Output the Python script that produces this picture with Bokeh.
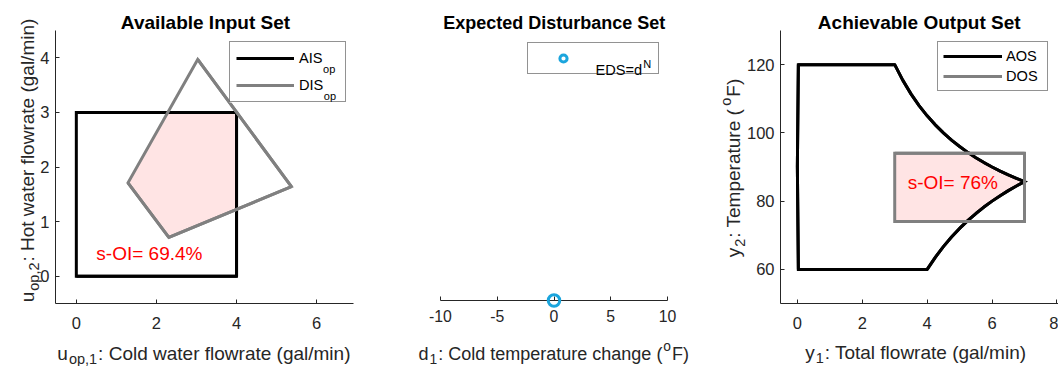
import math
from bokeh.plotting import figure
from bokeh.layouts import row, column
from bokeh.models import Range1d, FixedTicker, Legend, LegendItem
from bokeh.core.properties import value
from bokeh.embed import file_html
from bokeh.resources import INLINE

FONT = "Liberation Sans"
INK = "#262626"
GRAY = "#808080"
PINK = "#FFE4E4"
RED = "#FF0000"
CYAN = "#1BA5DD"

# ---------------- data ----------------
# Available input set (cold / hot water flow, gal/min)
ais_u1 = [0.0, 4.0, 4.0, 0.0]
ais_u2 = [0.0, 0.0, 3.0, 3.0]
# Desired input set
dis_u1 = [3.03, 5.37, 2.31, 1.29]
dis_u2 = [3.97, 1.64, 0.71, 1.71]
ais_soi_text = "s-OI= 69.4%"
ais_soi_x, ais_soi_y = 0.5, 0.42

# Expected disturbance set: nominal point only
eds_d1 = [0.0]
eds_level = [0.0]

# Achievable output set boundary (y1 total flow, y2 temperature)
aos_left_y1 = [0.03, 0.0, 0.03]
aos_left_y2 = [60.0, 90.0, 120.0]
aos_upper_y1 = [3.00, 3.25, 3.50, 3.75, 4.00, 4.25, 4.50, 4.75, 5.00,
                5.25, 5.50, 5.75, 6.00, 6.25, 6.50, 6.75, 7.00]
aos_upper_y2 = [120.00, 115.38, 111.43, 108.00, 105.00, 102.35, 100.00, 97.89, 96.00,
                94.29, 92.73, 91.30, 90.00, 88.80, 87.69, 86.67, 85.71]
aos_lower_y1 = [6.75, 6.50, 6.25, 6.00, 5.75, 5.50, 5.25, 5.00, 4.75, 4.50, 4.25, 4.00]
aos_lower_y2 = [84.44, 83.08, 81.60, 80.00, 78.26, 76.36, 74.29, 72.00, 69.47, 66.67, 63.53, 60.00]
# Desired output set
dos_y1 = [3.0, 7.0, 7.0, 3.0]
dos_y2 = [74.0, 74.0, 94.0, 94.0]
aos_soi_text = "s-OI= 76%"
aos_soi_x, aos_soi_y = 3.4, 85.5

# tick positions
ais_xticks = [0, 2, 4, 6]
ais_yticks = [0, 1, 2, 3, 4]
eds_xticks = [-10, -5, 0, 5, 10]
aos_xticks = [0, 2, 4, 6, 8]
aos_yticks = [60, 80, 100, 120]


# ---------------- helpers ----------------
def clip_to_box(xs, ys, xmin, xmax, ymin, ymax):
    """Sutherland-Hodgman clipping of a polygon against an axis-aligned box."""
    pts = list(zip(xs, ys))

    def clip(pts, inside, cross):
        out = []
        for i in range(len(pts)):
            cur, prev = pts[i], pts[i - 1]
            if inside(cur):
                if not inside(prev):
                    out.append(cross(prev, cur))
                out.append(cur)
            elif inside(prev):
                out.append(cross(prev, cur))
        return out

    def at_x(a, b, x):
        t = (x - a[0]) / (b[0] - a[0])
        return (x, a[1] + t * (b[1] - a[1]))

    def at_y(a, b, y):
        t = (y - a[1]) / (b[1] - a[1])
        return (a[0] + t * (b[0] - a[0]), y)

    pts = clip(pts, lambda p: p[0] >= xmin, lambda a, b: at_x(a, b, xmin))
    pts = clip(pts, lambda p: p[0] <= xmax, lambda a, b: at_x(a, b, xmax))
    pts = clip(pts, lambda p: p[1] >= ymin, lambda a, b: at_y(a, b, ymin))
    pts = clip(pts, lambda p: p[1] <= ymax, lambda a, b: at_y(a, b, ymax))
    return [p[0] for p in pts], [p[1] for p in pts]


# Arial / Liberation Sans advance widths (per 1000 em)
ADV = {" ": 278, "(": 333, ")": 333, ",": 278, "-": 333, ".": 278, "/": 278, ":": 278,
       "=": 584, "%": 889, "A": 667, "C": 722, "D": 722, "E": 667, "F": 611, "H": 722,
       "I": 278, "N": 722, "O": 778, "S": 667, "T": 611, "a": 556, "c": 500, "d": 556,
       "e": 556, "f": 278, "g": 556, "h": 556, "i": 222, "l": 222, "m": 833, "n": 556,
       "o": 556, "p": 556, "r": 333, "s": 500, "t": 278, "u": 556, "w": 722, "y": 500}


def text_width(s, size):
    return sum(ADV.get(c, 556) for c in s) * size / 1000.0


class Panel:
    """Page geometry of one axes box and its data ranges."""
    def __init__(self, page_left, fl, fr, ft, fb, xr, yr):
        self.page_left, self.fl, self.fr, self.ft, self.fb = page_left, fl, fr, ft, fb
        self.xr, self.yr = xr, yr

    def to_data(self, X, Y):
        x = self.xr[0] + (X - self.fl) / (self.fr - self.fl) * (self.xr[1] - self.xr[0])
        y = self.yr[0] + (self.fb - Y) / (self.fb - self.ft) * (self.yr[1] - self.yr[0])
        return x, y


def make_fig(g, width, y_axis=True):
    p = figure(width=width, height=366,
               x_range=Range1d(*g.xr), y_range=Range1d(*g.yr),
               min_border_left=g.fl - g.page_left,
               min_border_right=g.page_left + width - g.fr,
               min_border_top=g.ft, min_border_bottom=366 - g.fb,
               output_backend="svg", toolbar_location=None,
               y_axis_location="left" if y_axis else None,
               outline_line_color=None, background_fill_color="white",
               border_fill_color="white")
    p.grid.visible = False
    return p


def style_axis(ax, size, standoff):
    ax.axis_line_color = INK
    ax.axis_line_width = 1
    ax.major_tick_line_color = INK
    ax.major_tick_in = 4
    ax.major_tick_out = 0
    ax.minor_tick_line_color = None
    ax.major_label_text_font = FONT
    ax.major_label_text_font_size = f"{size}px"
    ax.major_label_text_color = INK
    ax.major_label_standoff = standoff


def put(p, g, X, Y, text, size, color=INK, angle=0.0, align="left",
        baseline="alphabetic", bold=False):
    """Text placed at a page position, drawn unclipped above the frame."""
    x, y = g.to_data(X, Y)
    p.text(x=[x], y=[y], text=[text], angle=angle, text_align=align,
           text_baseline=baseline, text_font=value(FONT),
           text_font_size=value(f"{size}px"), text_color=color,
           text_font_style="bold" if bold else "normal", level="overlay")


def rich(p, g, segs, X, Y, angle=0.0, gap=1.0):
    """Centered label made of pieces (text, size, baseline shift in px)."""
    widths = [text_width(t, s) for t, s, _ in segs]
    total = sum(widths) + gap * (len(segs) - 1)
    off = -total / 2.0
    for (t, s, sh), w in zip(segs, widths):
        if angle == 0.0:
            put(p, g, X + off, Y + sh, t, s)
        else:
            put(p, g, X + sh, Y - off, t, s, angle=angle)
        off += w + gap


def legend(p, g, items, box, pad, spacing, gw, gh, standoff):
    """Legend box given as page (left, right, top, bottom); white backing drawn first."""
    left, right, top, bottom = box
    x0, y0 = g.to_data(left, bottom)
    x1, y1 = g.to_data(right, top)
    p.quad(left=[x0], right=[x1], bottom=[y0], top=[y1], fill_color="white",
           line_color=None, level="overlay")
    lw = (right - left) - 2 * pad - gw - standoff
    lg = Legend(items=items, location=(left - g.fl, g.fb - bottom), orientation="vertical",
                padding=pad, spacing=spacing, margin=0,
                glyph_width=gw, glyph_height=gh, label_standoff=standoff,
                label_width=lw, label_height=gh,
                label_text_font=FONT, label_text_font_size="14.6px",
                label_text_color="black",
                border_line_color=INK, border_line_width=1,
                background_fill_alpha=0.0)
    p.add_layout(lg)


# ---------------- panel 1: available input set ----------------
g1 = Panel(0, 55, 353, 30, 303, (-0.52, 6.92), (-0.5, 4.5))
p1 = make_fig(g1, 360)
style_axis(p1.xaxis[0], 16.5, 13)
style_axis(p1.yaxis[0], 16.5, 6)
p1.xaxis.ticker = FixedTicker(ticks=ais_xticks)
p1.yaxis.ticker = FixedTicker(ticks=ais_yticks)

ov_x, ov_y = clip_to_box(dis_u1, dis_u2, min(ais_u1), max(ais_u1), min(ais_u2), max(ais_u2))
p1.patch(ov_x, ov_y, fill_color=PINK, line_color=None)
k_ais = p1.line(ais_u1, ais_u2, line_color="black", line_width=3)
p1.patch(ais_u1, ais_u2, fill_color=None, line_color="black", line_width=3, line_join="miter")
k_dis = p1.line(dis_u1, dis_u2, line_color=GRAY, line_width=3)
p1.patch(dis_u1, dis_u2, fill_color=None, line_color=GRAY, line_width=3, line_join="miter")
legend(p1, g1, [LegendItem(label="AIS", renderers=[k_ais]),
                LegendItem(label="DIS", renderers=[k_dis])],
       (229, 344, 43, 102), 6, 7, 58, 20, 5)
put(p1, g1, 298 + text_width("AIS", 14.6) + 1, 68.5, "op", 11, color="black")
put(p1, g1, 298 + text_width("DIS", 14.6) + 1, 95.5, "op", 11, color="black")

p1.text(x=[ais_soi_x], y=[ais_soi_y], text=[ais_soi_text], text_align="left",
        text_baseline="middle", text_font=value(FONT), text_font_size=value("19px"),
        text_color=RED)
put(p1, g1, 205, 21.7, "Available Input Set", 19, color="black", align="center", bold=True)
rich(p1, g1, [("u", 19, 0), ("op,1", 14.5, 5.5), (": Cold water flowrate (gal/min)", 19, 0)],
     203.4, 352.5)
rich(p1, g1, [("u", 19, 0), ("op,2", 14.5, 6), (": Hot water flowrate (gal/min)", 19, 0)],
     27, 160, angle=math.pi / 2)

# ---------------- panel 2: expected disturbance set ----------------
g2 = Panel(360, 440, 667, 30, 300, (-10, 10), (0.0, 1.0))
p2 = make_fig(g2, 340, y_axis=False)
style_axis(p2.xaxis[0], 15.8, 9)
p2.xaxis.ticker = FixedTicker(ticks=eds_xticks)
p2.xaxis.major_label_overrides = {-10: "-10", -5: "-5"}
r_eds = p2.scatter(eds_d1, eds_level, marker="circle", size=11.5, fill_color=None,
                   line_color=CYAN, line_width=3, level="overlay")
legend(p2, g2, [LegendItem(label=" ", renderers=[r_eds])],
       (527, 657, 44, 74), 6, 0, 58, 18, 4)
put(p2, g2, 595, 69.8, "EDS=d", 14.6, color="black")
put(p2, g2, 595 + text_width("EDS=d", 14.6) + 1, 63.3, "N", 11, color="black")
put(p2, g2, 553.8, 22, "Expected Disturbance Set", 18, color="black", align="center", bold=True)
rich(p2, g2, [("d", 18, 0), ("1", 13.8, 5.5), (": Cold temperature change (", 18, 0),
              ("o", 13.8, -7), ("F)", 18, 0)], 553.3, 353)

# ---------------- panel 3: achievable output set ----------------
g3 = Panel(700, 780, 1058, 30, 303, (-0.52, 8.047), (50, 130))
p3 = make_fig(g3, 358)
style_axis(p3.xaxis[0], 16.5, 13)
style_axis(p3.yaxis[0], 16.5, 6)
p3.xaxis.ticker = FixedTicker(ticks=aos_xticks)
p3.yaxis.ticker = FixedTicker(ticks=aos_yticks)

aos_y1 = aos_left_y1 + aos_upper_y1 + aos_lower_y1
aos_y2 = aos_left_y2 + aos_upper_y2 + aos_lower_y2
ov3_x, ov3_y = clip_to_box(aos_y1, aos_y2, min(dos_y1), max(dos_y1), min(dos_y2), max(dos_y2))
p3.patch(ov3_x, ov3_y, fill_color=PINK, line_color=None)
k_aos = p3.line(aos_y1, aos_y2, line_color="black", line_width=3)
p3.patch(aos_y1, aos_y2, fill_color=None, line_color="black", line_width=3, line_join="miter")
k_dos = p3.line(dos_y1, dos_y2, line_color=GRAY, line_width=3)
p3.patch(dos_y1, dos_y2, fill_color=None, line_color=GRAY, line_width=3, line_join="miter")
legend(p3, g3, [LegendItem(label="AOS", renderers=[k_aos]),
                LegendItem(label="DOS", renderers=[k_dos])],
       (937, 1046, 43, 91), 5, 2, 59, 18, 4)

p3.text(x=[aos_soi_x], y=[aos_soi_y], text=[aos_soi_text], text_align="left",
        text_baseline="middle", text_font=value(FONT), text_font_size=value("19px"),
        text_color=RED)
put(p3, g3, 918.7, 22, "Achievable Output Set", 19, color="black", align="center", bold=True)
rich(p3, g3, [("y", 19, 0), ("1", 14.5, 5.5), (": Total flowrate (gal/min)", 19, 0)],
     916.3, 352)
rich(p3, g3, [("y", 19, 0), ("2", 14.5, 6), (": Temperature (", 19, 0), ("o", 14.5, -8),
              ("F)", 19, 0)], 733.3, 167.5, angle=math.pi / 2)

layout = row(p1, column(p2), p3)
open("out.html", "w").write(file_html(layout, INLINE))
